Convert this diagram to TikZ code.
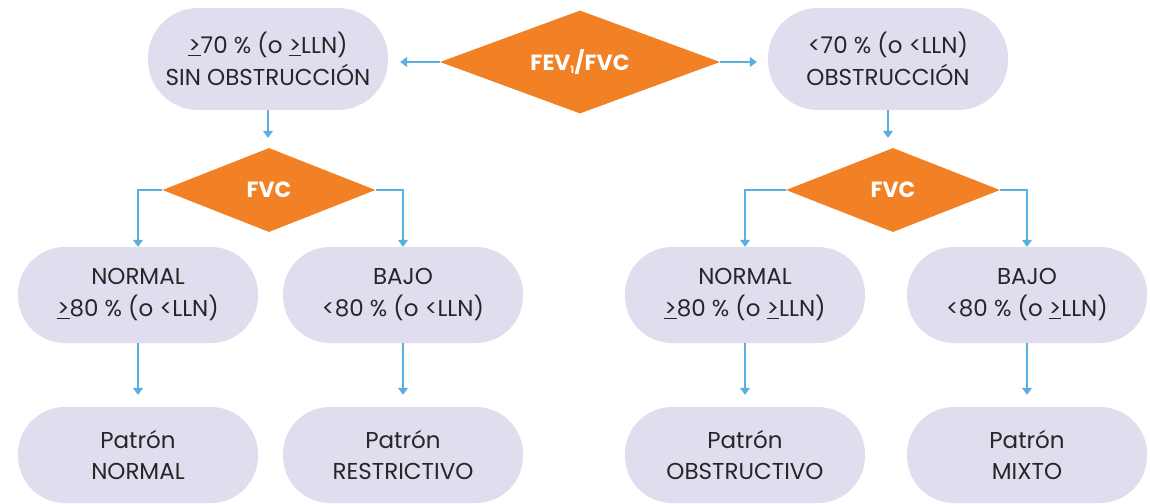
\documentclass[tikz,border=0pt]{standalone}
\usepackage{fontspec}
\setmainfont{Poppins}
\usetikzlibrary{shapes.geometric,arrows.meta}
\definecolor{lila}{HTML}{E0DDEF}
\definecolor{naranja}{HTML}{F28024}
\definecolor{azul}{HTML}{5AAEE0}
\tikzset{
  caja/.style={fill=lila,rounded corners=47pt,minimum width=240pt,minimum height=96pt,
    align=center,font=\fontsize{23}{32}\selectfont,text=black!85},
  rombo/.style={diamond,aspect=2.5,fill=naranja,inner sep=0pt,text=white,
    font=\fontsize{22}{24}\selectfont\bfseries},
  flecha/.style={draw=azul,line width=1.3pt,-{Triangle[width=10pt,length=7pt]}}
}
\newcommand{\mayig}{\underline{>}}
\begin{document}
\begin{tikzpicture}[x=1pt,y=-1pt]
          \useasboundingbox (0,0) rectangle (1150,503);
          % primera decision
          \node[rombo,minimum width=280pt,minimum height=103pt] (fev) at (580,62) {FEV\textsubscript{\fontsize{10}{10}\selectfont 1}/FVC};
          \node[caja,minimum height=102pt,rounded corners=50pt] (sinobs) at (268,59) {\mayig70 \% (o \mayig LLN)\\SIN OBSTRUCCIÓN};
          \node[caja,minimum height=102pt,rounded corners=50pt] (obs) at (888,59) {<70 \% (o <LLN)\\OBSTRUCCIÓN};
          % FVC
          \node[rombo,minimum width=213pt,minimum height=84pt] (fvcA) at (269,190) {FVC};
          \node[rombo,minimum width=214pt,minimum height=84pt] (fvcB) at (893,190) {FVC};
          \node[caja] (normA) at (138,295) {NORMAL\\\mayig80 \% (o <LLN)};
          \node[caja] (bajoA) at (403,295) {BAJO\\<80 \% (o <LLN)};
          \node[caja] (normB) at (745,295) {NORMAL\\\mayig80 \% (o \mayig LLN)};
          \node[caja] (bajoB) at (1027,295) {BAJO\\<80 \% (o \mayig LLN)};
          % patrones
          \node[caja] (patN) at (138,455) {Patrón\\NORMAL};
          \node[caja] (patR) at (403,455) {Patrón\\RESTRICTIVO};
          \node[caja] (patO) at (745,455) {Patrón\\OBSTRUCTIVO};
          \node[caja] (patM) at (1027,455) {Patrón\\MIXTO};
          \draw[flecha,shorten >=12pt] (fev.west) -- (fev.west -| sinobs.east);
          \draw[flecha,shorten >=11pt] (fev.east) -- (fev.east -| obs.west);
          \draw[flecha,shorten >=10pt] (sinobs.south) -- (sinobs.south |- fvcA.north);
          \draw[flecha,shorten >=10pt] (obs.south) -- (obs.south |- fvcB.north);
          \draw[flecha] (fvcA.west) -| (normA.north);
          \draw[flecha] (fvcA.east) -| (bajoA.north);
          \draw[flecha] (fvcB.west) -| (normB.north);
          \draw[flecha] (fvcB.east) -| (bajoB.north);
          \draw[flecha,shorten >=12pt] (normA.south) -- (patN.north);
          \draw[flecha,shorten >=12pt] (bajoA.south) -- (patR.north);
          \draw[flecha,shorten >=12pt] (normB.south) -- (patO.north);
          \draw[flecha,shorten >=12pt] (bajoB.south) -- (patM.north);
        \end{tikzpicture}
\end{document}
